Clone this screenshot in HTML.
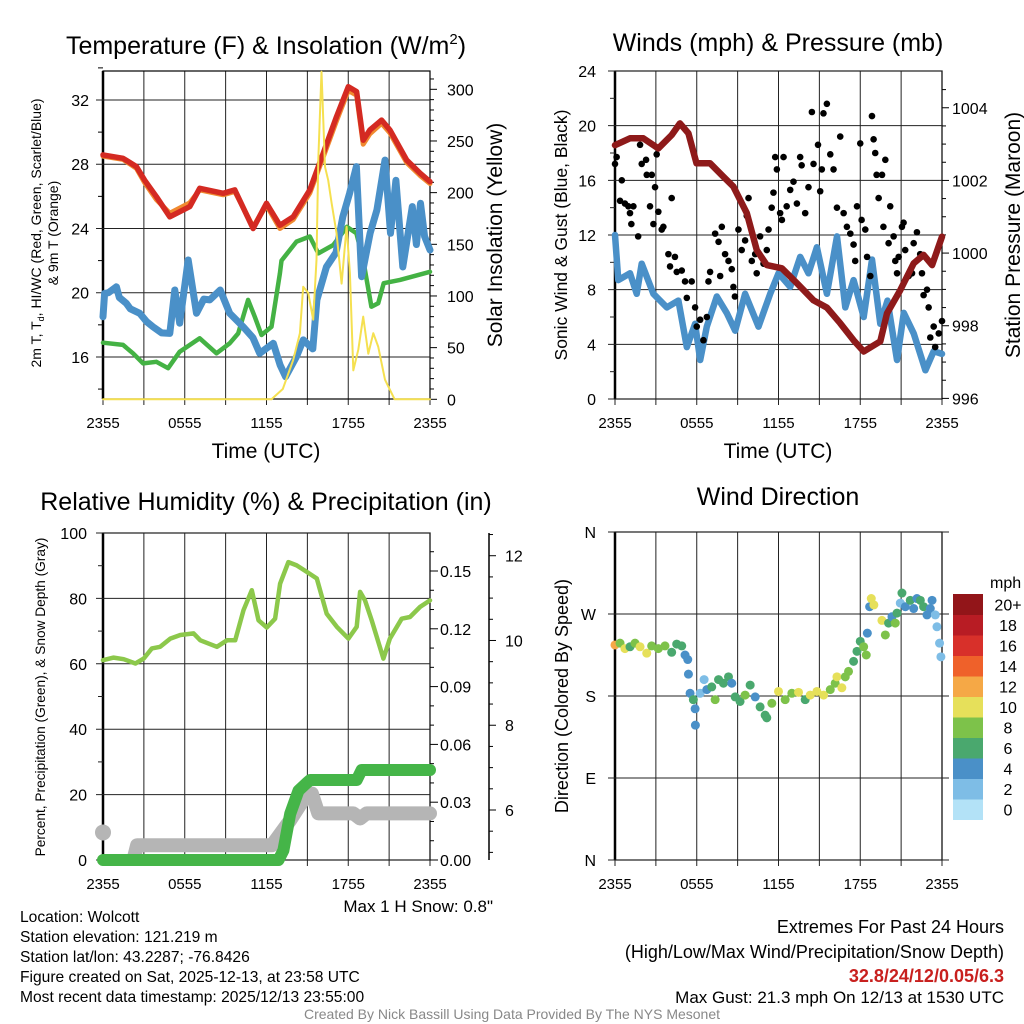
<!DOCTYPE html>
<html><head><meta charset="utf-8"><style>
html,body{margin:0;padding:0;background:#fff;}
svg{display:block;font-family:"Liberation Sans",sans-serif;}
</style></head><body>
<svg id="c" width="1024" height="1024" viewBox="0 0 1024 1024"></svg>
<script>
// ---------- DATA ----------
// Panel 1
const redH=[0,1.47,2.45,3.06,3.92,4.9,6.37,7.1,8.82,9.67,11.02,12,12.98,13.96,15.18,16.16,17.14,18,18.61,19.1,19.59,20.45,21.06,22.29,23.27,24];
const redT=[28.58,28.37,27.85,27.0,25.98,24.73,25.36,26.5,26.19,26.4,24.0,25.57,24.2,24.73,26.4,28.68,30.96,32.83,32.52,29.5,30.13,30.75,30.13,28.26,27.44,26.91];
const orangeT=[28.5,28.3,27.75,26.85,25.8,24.95,25.6,26.4,26.1,26.3,24.1,25.45,24.0,24.55,26.2,28.45,30.7,32.6,32.3,29.25,29.9,30.55,29.95,28.1,27.3,26.8];
const grnH=[0,1.47,2.2,2.94,3.92,4.78,5.63,7.1,8.33,9.3,9.92,10.65,11.14,11.63,12.37,12.98,13.1,14.2,15.18,15.8,16.9,17.9,18.6,19.1,19.7,20.2,20.6,21.8,24];
const grnT=[16.89,16.75,16.23,15.6,15.7,15.3,16.33,17.16,16.23,16.85,17.47,19.55,18.5,17.37,17.88,21.2,22.0,23.18,23.5,22.45,22.97,24.1,23.7,22.04,19.13,19.34,20.59,20.8,21.3];
const bluH=[0,0.12,0.4,0.98,1.2,1.71,2.0,2.69,3.2,3.67,4.3,4.9,5.27,5.63,6.25,6.86,7.4,7.84,8.6,9.3,10.29,11.0,11.5,12.5,13.0,13.4,14.2,14.7,15.4,15.7,16.4,17.1,17.6,18.1,18.6,18.98,19.6,20.1,20.7,21.1,21.5,22.0,22.7,23.0,23.3,23.6,24];
const bluT=[18.5,19.96,20.0,20.37,19.7,19.34,19.0,18.72,18.2,17.88,17.5,17.47,20.17,18.1,22.04,18.72,19.6,19.55,20.17,18.72,17.88,17.2,16.23,16.85,15.5,14.77,16.02,17.06,16.5,19.55,21.6,22.5,24.73,26.19,27.85,21.0,23.7,25.15,28.26,23.7,27.0,21.6,25.36,23.0,25.57,23.5,22.66];
const solH=[0,12.37,13.2,13.96,14.45,14.69,15.06,15.43,15.67,15.8,16.04,16.29,16.53,16.78,17.14,17.51,17.88,18.12,18.37,18.74,19.1,19.47,19.84,20.2,20.7,21.4,24];
const solW=[0,0,10,38,64,109,103,77,135,232,317,225,212,190,161,112,167,122,28,48,80,44,64,51,19,0,0];
// Panel 2
const presH=[0,1.1,2.08,3.18,4.16,4.76,5.39,5.98,6.98,7.96,8.69,9.67,10.41,11.14,12.25,13.35,14.57,15.55,16.53,17.51,18.25,19.47,19.96,20.94,21.92,22.65,23.27,24];
const presMb=[1002.97,1003.16,1003.16,1002.88,1003.25,1003.57,1003.3,1002.47,1002.47,1002.1,1001.83,1001.1,1000.08,999.67,999.58,999.17,998.7,998.5,998.07,997.6,997.29,997.57,998.34,998.98,999.72,999.95,999.67,1000.45];
const sonH=[0,0.24,1.1,1.59,1.96,2.82,3.8,4.65,5.27,5.88,6.25,6.74,7.47,8.2,8.82,9.55,10.53,11.39,12.0,12.86,13.59,14.2,14.82,15.55,16.29,16.9,17.51,18.25,18.86,19.47,20.0,20.7,21.2,21.92,22.78,23.39,24];
const sonW=[12.0,8.7,9.2,7.7,9.9,7.7,6.7,7.2,3.8,5.5,2.85,5.3,7.5,6.3,5.0,7.7,5.3,7.7,9.2,8.2,10.4,9.2,11.1,7.7,11.9,6.7,8.7,6.0,10.2,5.5,7.2,2.85,6.3,4.8,2.1,3.5,3.3];
const gustH=[0,0.12,0.37,0.5,0.73,0.98,1.1,1.2,1.35,1.7,1.84,1.96,2.28,2.33,2.7,2.57,2.94,3.06,3.18,2.82,3.43,3.55,3.92,4.04,4.16,4.4,4.53,4.9,5.14,5.27,5.63,5.88,6.0,6.25,6.49,6.74,6.86,6.98,7.35,7.6,7.84,7.72,8.08,8.33,8.57,8.69,8.8,9.06,9.3,9.55,9.67,9.8,10.04,10.29,10.4,10.65,10.9,11.14,11.27,11.5,11.63,11.76,11.88,12.12,12.25,12.37,12.6,12.86,13.1,13.35,13.59,13.7,13.96,14.2,14.45,14.57,14.9,15.06,15.18,15.3,15.55,15.8,16.04,16.29,16.53,16.78,17.02,17.27,17.51,17.63,17.76,18.0,18.1,18.37,18.5,18.74,18.86,18.98,19.1,19.2,19.35,19.6,19.7,19.84,20.08,20.2,20.45,20.57,20.7,20.82,21.06,21.18,21.3,21.55,21.8,21.92,22.16,22.4,22.53,22.65,22.9,23.02,23.14,23.39,23.5,23.76,24.0];
const gustW=[17.2,17.7,14.5,16.0,14.3,14.1,13.6,12.8,14.1,11.9,18.6,17.2,17.5,16.4,16.4,14.1,15.5,17.9,13.7,12.8,12.4,12.6,10.6,9.7,14.7,10.4,9.3,9.4,8.6,7.4,8.6,6.7,5.3,5.8,4.3,6.0,8.6,9.3,12.1,11.5,12.6,9.0,10.6,10.1,9.5,8.2,7.5,12.4,10.9,11.6,13.4,14.7,10.1,10.6,9.2,11.9,9.9,10.9,12.4,14.0,15.1,17.7,16.8,13.6,13.1,17.7,14.1,15.3,15.9,14.3,17.7,17.1,13.6,15.5,21.0,17.2,18.6,15.2,16.8,20.9,21.6,17.9,16.8,14.0,19.2,13.6,12.6,12.1,11.3,10.1,14.1,18.7,13.1,12.4,10.4,9.0,20.7,19.0,18.0,16.4,14.7,16.4,12.6,17.5,11.4,14.1,11.9,10.1,9.2,10.4,12.6,12.9,10.9,9.0,9.2,11.4,12.2,10.6,9.2,7.6,8.0,6.7,4.5,5.3,3.8,4.8,5.7];
// Panel 3
const rhH=[0,0.78,1.52,2.38,2.99,3.59,4.2,4.94,5.67,6.65,7.14,8.36,9.1,9.7,10.31,10.92,11.41,12.02,12.63,13.0,13.61,14.22,14.96,15.69,16.42,17.16,18.01,18.62,18.87,19.23,19.72,20.58,21.06,21.92,22.53,23.27,24];
const rhP=[61.1,61.9,61.4,60.1,61.6,64.7,65.2,67.7,68.8,69.3,67.2,65.2,67.2,67.2,76.4,82.5,73.3,71.1,73.8,84.5,91.1,90.1,88.1,86.1,75.3,71.3,67.7,71.3,82.0,79.4,73.3,61.6,67.7,73.8,74.3,77.4,79.4];
const prH=[0,12.88,13.24,13.74,14.35,14.96,15.2,18.62,18.98,24];
const prIn=[0,0,0.005,0.024,0.036,0.040,0.0415,0.0415,0.0467,0.0467];
const snH=[2.25,2.5,12.4,13.74,14.7,15.33,15.8,18.38,18.87,19.35,24];
const snIn=[4.85,5.17,5.17,5.76,6.24,6.39,5.92,5.92,5.8,5.92,5.92];
const snFirstH=0, snFirstIn=5.47;
// Panel 4
const dirH=[0,0.37,0.73,1.1,1.47,1.84,2.33,2.69,3.18,3.67,4.16,4.53,4.9,5.14,5.34,5.39,5.51,5.75,5.88,5.9,6.25,6.54,6.74,7.1,7.35,7.6,7.96,8.33,8.57,8.82,9.18,9.55,9.92,10.29,10.65,11.02,11.14,11.51,12.0,12.49,12.98,13.47,13.96,14.33,14.82,15.31,15.8,16.16,16.29,16.65,16.9,17.14,17.51,17.76,18.0,18.25,18.44,18.52,18.69,18.81,19.0,19.59,19.84,20.08,20.33,20.57,20.7,20.94,21.06,21.31,21.67,21.92,22.16,22.41,22.65,22.9,23.14,23.27,23.51,23.63,23.82,23.92];
const dirDeg=[236,238,232,234,238,234,227,235,232,235,228,237,235,225,220,204,183,176,166,148,183,198,187,190,176,198,194,201,194,179,174,181,192,179,168,159,156,172,185,176,183,184,176,181,185,181,187,194,201,189,201,207,218,229,240,234,225,249,278,287,280,263,247,260,267,260,271,282,293,278,285,276,287,285,278,269,276,285,269,256,238,223,212];
const dirSpd=[12,8,10,6,8,10,10,8,8,8,6,6,6,4,4,4,4,6,4,4,2,2,4,6,8,6,6,6,4,6,6,8,6,4,6,6,6,8,10,8,8,10,6,10,10,10,8,8,10,10,8,8,6,6,6,8,8,4,4,10,10,10,8,6,4,8,6,2,6,4,6,4,4,6,6,4,4,4,2,2,2,2,4];
const spdColors=['#b3e2f7','#7ebde6','#4a90c8','#4aa86e','#7dc24a','#e6e05a','#f5a846','#ef612a','#d8302a','#b81c24','#921519'];
const spdLabels=['0','2','4','6','8','10','12','14','16','18','20+'];

// ---------- DRAWING ----------
const NS='http://www.w3.org/2000/svg';
const svg=document.getElementById('c');
function mk(tag,attrs,name,parent){
  const el=document.createElementNS(NS,tag);
  for(const k in attrs) el.setAttribute(k,attrs[k]);
  
  
  (parent||svg).appendChild(el);
  return el;
}
function txt(x,y,s,name,opts){
  opts=opts||{};
  const el=mk('text',{x:x,y:y,'font-size':opts.size||14,fill:opts.fill||'#000','text-anchor':opts.anchor||'middle','font-weight':opts.weight||'normal'},name);
  if(opts.rot){el.setAttribute('transform','rotate('+opts.rot+' '+x+' '+y+')');}
  el.textContent=s;
  return el;
}
function ln(x1,y1,x2,y2,name,w,col){
  return mk('line',{x1:x1,y1:y1,x2:x2,y2:y2,stroke:col||'#000','stroke-width':w||1},name);
}
function poly(xs,ys,name,col,w,fx,fy){
  const pts=xs.map((h,i)=>fx(h).toFixed(1)+','+fy(ys[i]).toFixed(1)).join(' ');
  return mk('polyline',{points:pts,fill:'none',stroke:col,'stroke-width':w,'stroke-linejoin':'round','stroke-linecap':'round'},name);
}
function frame(L,R,T,B,pfx,xlabY){
  for(let h=0;h<=24;h+=3){
    const x=L+h/24*(R-L);
    ln(x,T,x,B+6,pfx+'-vgrid',1,'#222');
  }
  mk('rect',{x:L,y:T,width:R-L,height:B-T,fill:'none',stroke:'#000','stroke-width':1.2},pfx+'-plot-border');
  ln(L,T,L,B,pfx+'-left-spine',2.5,'#000');
  const labs=['2355','0555','1155','1755','2355'];
  labs.forEach((s,i)=>txt(L+i*6/24*(R-L),xlabY,s,pfx+'-x-tick-label',{size:15}));
}
// Panel 1
(function(){
  const L=103,R=430,T=71,B=399;
  const fx=h=>L+h/24*(R-L);
  const fyT=t=>100+(32-t)*16.06;
  const fyS=s=>399.3-s*1.0333;
  frame(L,R,T,B,'temp',428);
  for(let t=16;t<=32;t+=4){ln(L-7,fyT(t),R,fyT(t),'temp-hgrid',1,'#222');txt(L-14,fyT(t)+6,String(t),'temp-y-tick-label',{anchor:'end',size:16});}
  for(let t=14;t<=34;t+=2){if(t%4)ln(L-5,fyT(t),L,fyT(t),'temp-y-minor-tick',1);}
  for(let s=0;s<=320;s+=10){const y=fyS(s);if(y<T)continue;ln(R,y,R+(s%50?4:7),y,'solar-y-tick',1);if(s%50===0)txt(R+17,y+6,String(s),'solar-y-tick-label',{anchor:'start',size:16});}
  poly(grnH,grnT,'dewpoint-line','#44b244',4.5,fx,fyT);
  poly(bluH,bluT,'wind-chill-line','#4a90c8',7,fx,fyT);
  poly(redH,orangeT,'9m-temp-line','#f08a30',5,fx,fyT);
  poly(redH,redT,'2m-temp-line','#d42a22',5.5,fx,fyT);
  poly(solH,solW,'solar-line','#f5e050',2,fx,fyS);
  txt(266,54,'','temp-title',{size:25}).innerHTML='Temperature (F) &amp; Insolation (W/m<tspan font-size="15" dy="-10">2</tspan><tspan dy="10">)</tspan>';
  txt(266,458,'Time (UTC)','temp-x-axis-title',{size:21});
  txt(41,233,'','temp-y-axis-title',{size:14,rot:-90}).innerHTML='2m T, T<tspan font-size="9" dy="3">d</tspan><tspan dy="-3">, HI/WC (Red, Green, Scarlet/Blue)</tspan>';
  txt(58,233,'& 9m T (Orange)','temp-y-axis-title-2',{size:14,rot:-90});
  txt(502,235,'Solar Insolation (Yellow)','solar-y-axis-title',{size:21,rot:-90});
})();
// Panel 2
(function(){
  const L=615,R=942,T=71,B=399;
  const fx=h=>L+h/24*(R-L);
  const fyW=w=>399-w*13.667;
  const fyP=p=>398.4-(p-996)*36.33;
  frame(L,R,T,B,'wind',428);
  for(let w=0;w<=24;w+=2){const y=fyW(w);ln(L-(w%4?5:7),y,w%4?L:R,y,w%4?'wind-y-minor-tick':'wind-hgrid',1,'#222');if(w%4===0)txt(L-19,y+6,String(w),'wind-y-tick-label',{anchor:'end',size:16});}
  for(let p=996;p<=1004.5;p+=0.5){const y=fyP(p);if(y<T)continue;ln(R,y,R+(p%2?4:7),y,'pressure-y-tick',1);if(p%2===0)txt(R+10,y+6,String(p),'pressure-y-tick-label',{anchor:'start',size:16});}
  poly(sonH,sonW,'sonic-wind-line','#4a90c8',6.5,fx,fyW);
  gustH.forEach((h,i)=>{mk('circle',{cx:fx(h),cy:fyW(gustW[i]),r:3.3,fill:'#000'},'gust-point');});
  poly(presH,presMb,'pressure-line','#8e1a1a',6.5,fx,fyP);
  txt(778,51,'Winds (mph) & Pressure (mb)','wind-title',{size:25});
  txt(778,458,'Time (UTC)','wind-x-axis-title',{size:21});
  txt(567,235,'Sonic Wind & Gust (Blue, Black)','wind-y-axis-title',{size:17.5,rot:-90});
  txt(1020,235,'Station Pressure (Maroon)','pressure-y-axis-title',{size:21,rot:-90});
})();
// Panel 3
(function(){
  const L=103,R=430,T=533,B=860;
  const fx=h=>L+h/24*(R-L);
  const fyR=r=>860-r*3.27;
  const fyPr=p=>860-p*1926.7;
  const fyS=s=>810-(s-6)*42.38;
  frame(L,R,T,B,'rh',889);
  for(let r=0;r<=100;r+=10){const y=fyR(r);ln(L-(r%20?5:7),y,r%20?L:R,y,r%20?'rh-y-minor-tick':'rh-hgrid',1,'#222');if(r%20===0)txt(L-16,y+6,String(r),'rh-y-tick-label',{anchor:'end',size:16});}
  for(let k=0;k<=16;k++){const p=k*0.01;const y=fyPr(p);if(y<T)continue;ln(R,y,R+(k%3?4:8),y,'precip-y-tick',1);if(k%3===0)txt(R+10,y+6,p.toFixed(2),'precip-y-tick-label',{anchor:'start',size:16});}
  ln(489,533,489,860,'snow-axis-line',1.5);
  for(let s=5;s<=12.5;s+=0.5){const y=fyS(s);if(y<T||y>B)continue;ln(489,y,489+(s%2===0?7:4),y,'snow-y-tick',1);if(s%2===0)txt(505,y+6,String(s),'snow-y-tick-label',{anchor:'start',size:16});}
  poly(snH,snIn,'snow-depth-line','#b5b5b5',14,fx,fyS);
  mk('circle',{cx:fx(snFirstH),cy:fyS(snFirstIn),r:8,fill:'#b5b5b5'},'snow-depth-first-point');
  poly(prH,prIn,'precip-line','#45b548',12,fx,fyPr);
  poly(rhH,rhP,'rh-line','#8cc84b',4.5,fx,fyR);
  txt(266,510,'Relative Humidity (%) & Precipitation (in)','rh-title',{size:25});
  txt(45,697,'Percent, Precipitation (Green), & Snow Depth (Gray)','rh-y-axis-title',{size:13.7,rot:-90});
  txt(493,912,'Max 1 H Snow: 0.8"','max-snow-note',{size:17,anchor:'end'});
})();
// Panel 4
(function(){
  const L=615,R=942,T=532,B=860;
  const fx=h=>L+h/24*(R-L);
  const fyD=d=>860-d*0.9111;
  frame(L,R,T,B,'dir',889);
  ['N','E','S','W','N'].forEach((s,i)=>{const y=fyD(i*90);ln(L-7,y,R+7,y,'dir-hgrid',1,'#222');txt(L-19,y+6,s,'dir-y-tick-label',{anchor:'end',size:16});});
  dirH.forEach((h,i)=>{const c=spdColors[Math.min(10,Math.floor(dirSpd[i]/2))];mk('circle',{cx:fx(h),cy:fyD(dirDeg[i]),r:4.5,fill:c},'dir-point');});
  txt(778,505,'Wind Direction','dir-title',{size:25});
  txt(568,696,'Direction (Colored By Speed)','dir-y-axis-title',{size:18,rot:-90});
  const cbT=594, cbH=20.5;
  for(let i=0;i<11;i++){
    const y=cbT+(10-i)*cbH;
    mk('rect',{x:953,y:y,width:30,height:cbH+0.5,fill:spdColors[i]},'colorbar-box');
    txt(1008,y+cbH/2+6,spdLabels[i],'colorbar-label',{size:16});
  }
  txt(990,588,'mph','colorbar-title',{size:16,anchor:'start'});
})();
// Footer text
const leftLines=['Location: Wolcott','Station elevation: 121.219 m','Station lat/lon: 43.2287; -76.8426','Figure created on Sat, 2025-12-13, at 23:58 UTC','Most recent data timestamp: 2025/12/13 23:55:00'];
leftLines.forEach((s,i)=>txt(20,922+i*20,s,'station-info-line',{anchor:'start',size:15.6}));
txt(1004,933,'Extremes For Past 24 Hours','extremes-title',{anchor:'end',size:18});
txt(1004,958,'(High/Low/Max Wind/Precipitation/Snow Depth)','extremes-subtitle',{anchor:'end',size:18});
txt(1004,982,'32.8/24/12/0.05/6.3','extremes-values',{anchor:'end',size:18,weight:'bold',fill:'#c8201e'});
txt(1004,1003,'Max Gust: 21.3 mph On 12/13 at 1530 UTC','max-gust-note',{anchor:'end',size:17});
txt(512,1019,'Created By Nick Bassill Using Data Provided By The NYS Mesonet','credit-footer',{size:14,fill:'#888'});
</script>
</body></html>
